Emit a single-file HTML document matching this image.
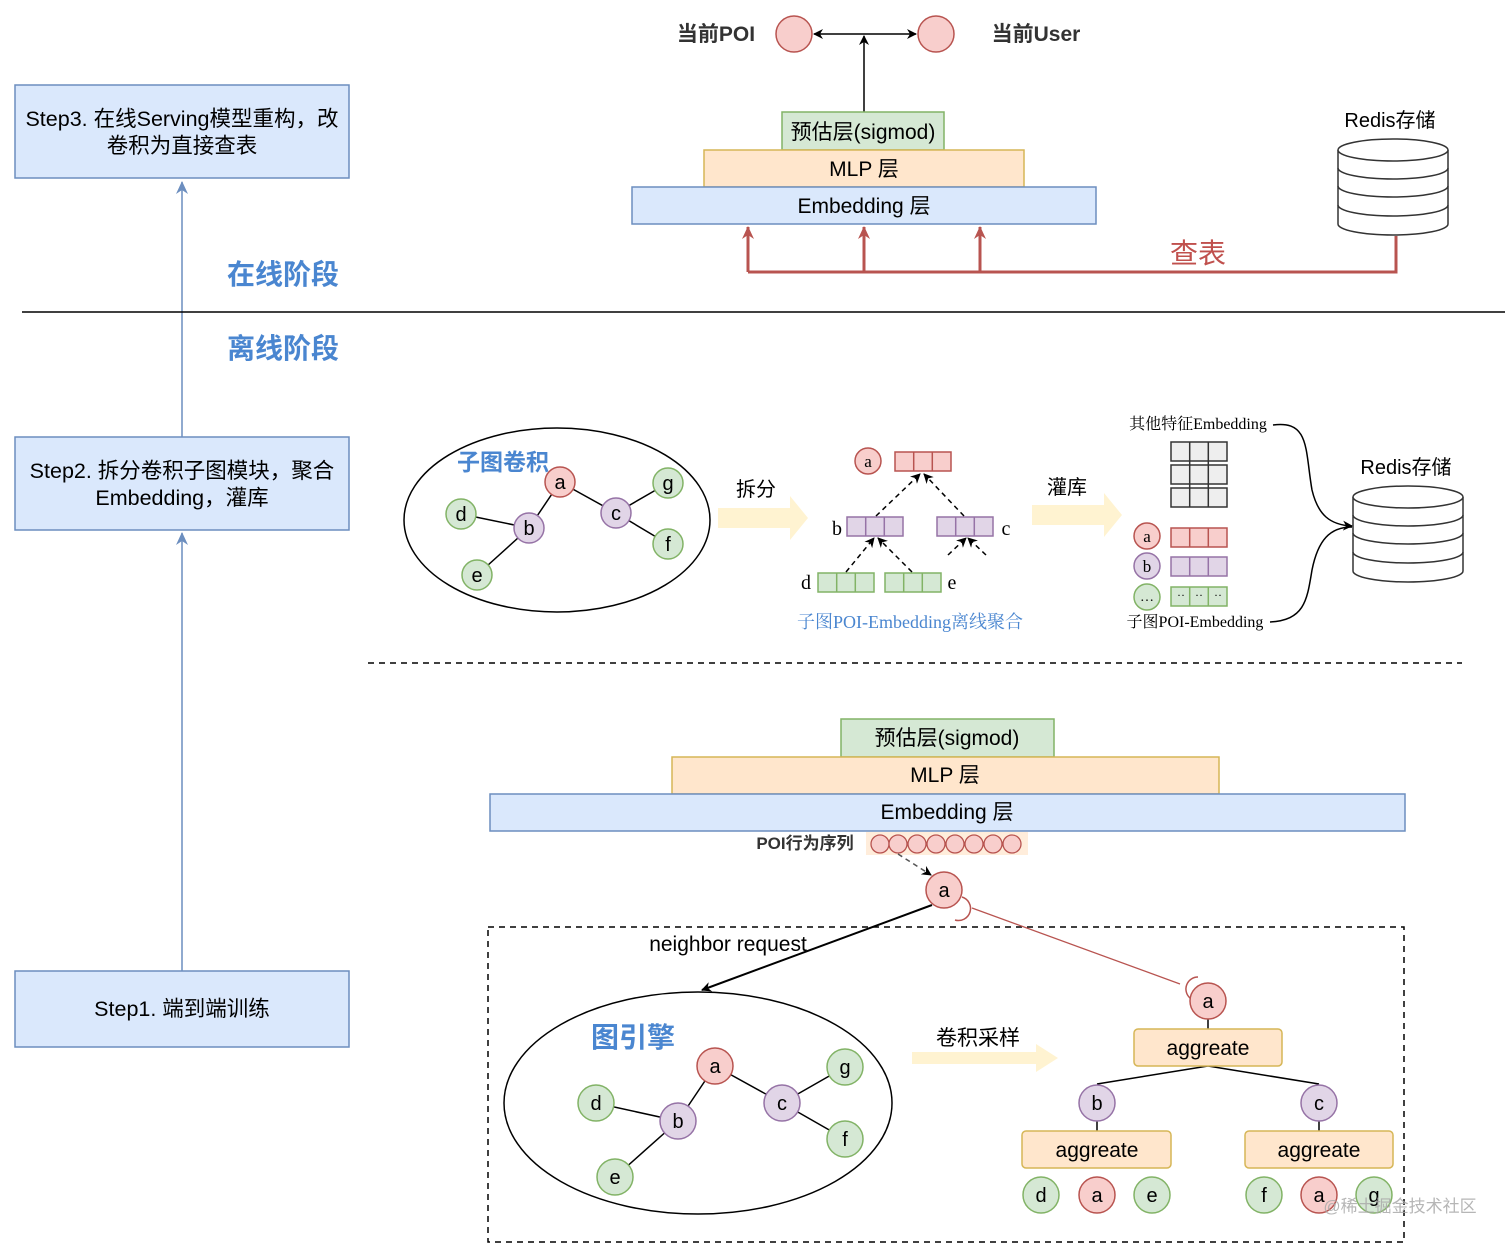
<!DOCTYPE html>
<html><head><meta charset="utf-8"><style>
body{margin:0;background:#fff}
svg text{font-family:"Liberation Sans","Noto Sans CJK SC",sans-serif}
.s{font-family:"Liberation Serif","Noto Serif CJK SC",serif !important}
</style></head><body>
<svg width="1512" height="1247" viewBox="0 0 1512 1247" xmlns="http://www.w3.org/2000/svg">
<defs>
<marker id="ab" markerWidth="10" markerHeight="10" refX="9" refY="5" orient="auto" markerUnits="userSpaceOnUse"><path d="M0,0 L10,5 L0,10 L3,5z" fill="#000"/></marker>
<marker id="ag" markerWidth="14" markerHeight="14" refX="12" refY="7" orient="auto" markerUnits="userSpaceOnUse"><path d="M0,1 L13,7 L0,13 L4,7z" fill="#6c8ebf"/></marker>
<marker id="ar" markerWidth="14" markerHeight="14" refX="12" refY="7" orient="auto" markerUnits="userSpaceOnUse"><path d="M0,1 L13,7 L0,13 L4,7z" fill="#b85450"/></marker>
</defs>

<line x1="182" y1="437" x2="182" y2="182" stroke="#6c8ebf" stroke-width="1.5" marker-end="url(#ag)"/>
<line x1="182" y1="971" x2="182" y2="533" stroke="#6c8ebf" stroke-width="1.5" marker-end="url(#ag)"/>
<rect x="15" y="85" width="334" height="93" fill="#dae8fc" stroke="#6c8ebf" stroke-width="1.5"/>
<text x="182" y="126" font-size="21.5" text-anchor="middle">Step3. 在线Serving模型重构，改</text>
<text x="182" y="153" font-size="21.5" text-anchor="middle">卷积为直接查表</text>
<rect x="15" y="437" width="334" height="93" fill="#dae8fc" stroke="#6c8ebf" stroke-width="1.5"/>
<text x="182" y="478" font-size="21.5" text-anchor="middle">Step2. 拆分卷积子图模块，聚合</text>
<text x="182" y="505" font-size="21.5" text-anchor="middle">Embedding，灌库</text>
<rect x="15" y="971" width="334" height="76" fill="#dae8fc" stroke="#6c8ebf" stroke-width="1.5"/>
<text x="182" y="1016" font-size="21.5" text-anchor="middle">Step1. 端到端训练</text>

<text x="283" y="284" font-size="28" font-weight="bold" fill="#4a86d0" text-anchor="middle">在线阶段</text>
<text x="283" y="358" font-size="28" font-weight="bold" fill="#4a86d0" text-anchor="middle">离线阶段</text>
<line x1="22" y1="312" x2="1505" y2="312" stroke="#000" stroke-width="1.5"/>

<text x="716" y="41" font-size="21" font-weight="bold" fill="#333" text-anchor="middle">当前POI</text>
<text x="1036" y="41" font-size="21" font-weight="bold" fill="#333" text-anchor="middle">当前User</text>
<circle cx="794" cy="34" r="18" fill="#f8cecc" stroke="#b85450" stroke-width="1.5"/>
<circle cx="936" cy="34" r="18" fill="#f8cecc" stroke="#b85450" stroke-width="1.5"/>
<line x1="864" y1="34" x2="814" y2="34" stroke="#000" stroke-width="1.5" marker-end="url(#ab)"/>
<line x1="864" y1="34" x2="916" y2="34" stroke="#000" stroke-width="1.5" marker-end="url(#ab)"/>
<line x1="864" y1="112" x2="864" y2="36" stroke="#000" stroke-width="1.5" marker-end="url(#ab)"/>
<rect x="782" y="112" width="162" height="38" fill="#d5e8d4" stroke="#82b366" stroke-width="1.5"/>
<text x="863" y="139" font-size="21" text-anchor="middle">预估层(sigmod)</text>
<rect x="704" y="150" width="320" height="37" fill="#ffe6cc" stroke="#d6b656" stroke-width="1.5"/>
<text x="864" y="176" font-size="21" text-anchor="middle">MLP 层</text>
<rect x="632" y="187" width="464" height="37" fill="#dae8fc" stroke="#6c8ebf" stroke-width="1.5"/>
<text x="864" y="213" font-size="21" text-anchor="middle">Embedding 层</text>
<path d="M748,272 H1396 V236" fill="none" stroke="#b85450" stroke-width="3"/>
<line x1="748" y1="272" x2="748" y2="227" stroke="#b85450" stroke-width="3" marker-end="url(#ar)"/>
<line x1="864" y1="272" x2="864" y2="227" stroke="#b85450" stroke-width="3" marker-end="url(#ar)"/>
<line x1="980" y1="272" x2="980" y2="227" stroke="#b85450" stroke-width="3" marker-end="url(#ar)"/>
<text x="1198" y="263" font-size="28" fill="#c0504d" text-anchor="middle">查表</text>
<text x="1390" y="127" font-size="20" text-anchor="middle">Redis存储</text>
<g stroke="#333" stroke-width="1.5" fill="#fff">
<path d="M1338,150 V224 A55,11 0 0 0 1448,224 V150"/>
<ellipse cx="1393" cy="150" rx="55" ry="11"/>
<path d="M1338,168 A55,11 0 0 0 1448,168 M1338,186 A55,11 0 0 0 1448,186 M1338,205 A55,11 0 0 0 1448,205" fill="none"/>
</g>

<ellipse cx="557" cy="520" rx="153" ry="92" fill="#fff" stroke="#000" stroke-width="1.5"/>
<text x="503" y="470" font-size="23" font-weight="bold" fill="#4a86d0" text-anchor="middle">子图卷积</text>
<g stroke="#000" stroke-width="1.5">
<line x1="461" y1="514" x2="529" y2="528"/><line x1="529" y1="528" x2="560" y2="482"/><line x1="529" y1="528" x2="477" y2="575"/>
<line x1="560" y1="482" x2="616" y2="513"/><line x1="616" y1="513" x2="668" y2="483"/><line x1="616" y1="513" x2="668" y2="544"/>
</g>
<g stroke-width="1.5">
<circle cx="461" cy="514" r="15" fill="#d5e8d4" stroke="#82b366"/><circle cx="529" cy="528" r="15" fill="#e1d5e7" stroke="#9673a6"/>
<circle cx="560" cy="482" r="15" fill="#f8cecc" stroke="#b85450"/><circle cx="616" cy="513" r="15" fill="#e1d5e7" stroke="#9673a6"/>
<circle cx="668" cy="483" r="15" fill="#d5e8d4" stroke="#82b366"/><circle cx="668" cy="544" r="15" fill="#d5e8d4" stroke="#82b366"/>
<circle cx="477" cy="575" r="15" fill="#d5e8d4" stroke="#82b366"/>
</g>
<g font-size="20" text-anchor="middle">
<text x="461" y="521">d</text><text x="529" y="535">b</text><text x="560" y="489">a</text><text x="616" y="520">c</text><text x="668" y="490">g</text><text x="668" y="551">f</text><text x="477" y="582">e</text>
</g>
<path d="M718,508 H790 V496 L808,518 L790,540 V528 H718z" fill="#fff2cc" opacity="0.9"/>
<text x="756" y="496" font-size="20" text-anchor="middle">拆分</text>
<path d="M1032,505 H1104 V493 L1122,515 L1104,537 V525 H1032z" fill="#fff2cc" opacity="0.9"/>
<text x="1067" y="494" font-size="20" text-anchor="middle">灌库</text>

<g stroke-width="1.5">
<circle cx="868" cy="461" r="13" fill="#f8cecc" stroke="#b85450"/>
<rect x="895" y="452" width="56" height="19" fill="#f8cecc" stroke="#b85450"/>
<path d="M913.7,452V471M932.3,452V471" stroke="#b85450"/>
<rect x="847" y="517" width="56" height="19" fill="#e1d5e7" stroke="#9673a6"/><path d="M865.7,517V536M884.3,517V536" stroke="#9673a6"/>
<rect x="937" y="517" width="56" height="19" fill="#e1d5e7" stroke="#9673a6"/><path d="M955.7,517V536M974.3,517V536" stroke="#9673a6"/>
<rect x="818" y="573" width="56" height="19" fill="#d5e8d4" stroke="#82b366"/><path d="M836.7,573V592M855.3,573V592" stroke="#82b366"/>
<rect x="885" y="573" width="56" height="19" fill="#d5e8d4" stroke="#82b366"/><path d="M903.7,573V592M922.3,573V592" stroke="#82b366"/>
</g>
<g stroke="#000" stroke-width="1.5" stroke-dasharray="5,4" fill="none">
<line x1="876" y1="516" x2="920" y2="474" marker-end="url(#ab)"/><line x1="964" y1="516" x2="924" y2="474" marker-end="url(#ab)"/>
<line x1="846" y1="572" x2="874" y2="538" marker-end="url(#ab)"/><line x1="912" y1="572" x2="878" y2="538" marker-end="url(#ab)"/>
<line x1="948" y1="555" x2="966" y2="538" marker-end="url(#ab)"/><line x1="986" y1="555" x2="968" y2="538" marker-end="url(#ab)"/>
</g>
<g font-size="20">
<text x="868" y="467" text-anchor="middle" class="s" font-size="17">a</text>
<text x="837" y="535" text-anchor="middle" class="s">b</text><text x="1006" y="535" text-anchor="middle" class="s">c</text>
<text x="806" y="589" text-anchor="middle" class="s">d</text><text x="952" y="589" text-anchor="middle" class="s">e</text>
</g>
<text x="910" y="628" font-size="18" fill="#4a86d0" text-anchor="middle" class="s">子图POI-Embedding离线聚合</text>

<text x="1198" y="429" font-size="16" text-anchor="middle" class="s">其他特征Embedding</text>
<g fill="#eee" stroke="#333" stroke-width="1.5">
<rect x="1171" y="442" width="56" height="19"/><rect x="1171" y="465" width="56" height="19"/><rect x="1171" y="488" width="56" height="19"/>
<path d="M1189.7,442V507M1208.3,442V507" fill="none"/>
</g>
<g stroke-width="1.5">
<circle cx="1147" cy="536" r="13" fill="#f8cecc" stroke="#b85450"/>
<rect x="1171" y="528" width="56" height="19" fill="#f8cecc" stroke="#b85450"/><path d="M1189.7,528V547M1208.3,528V547" stroke="#b85450"/>
<circle cx="1147" cy="566" r="13" fill="#e1d5e7" stroke="#9673a6"/>
<rect x="1171" y="557" width="56" height="19" fill="#e1d5e7" stroke="#9673a6"/><path d="M1189.7,557V576M1208.3,557V576" stroke="#9673a6"/>
<circle cx="1147" cy="597" r="13" fill="#d5e8d4" stroke="#82b366"/>
<rect x="1171" y="587" width="56" height="19" fill="#d5e8d4" stroke="#82b366"/><path d="M1189.7,587V606M1208.3,587V606" stroke="#82b366"/>
</g>
<g text-anchor="middle"><text x="1147" y="542" font-size="17" class="s">a</text><text x="1147" y="572" font-size="17" class="s">b</text><text x="1147" y="601" font-size="14" class="s">…</text>
<text x="1181" y="599" font-size="12" class="s">··</text><text x="1199" y="599" font-size="12" class="s">··</text><text x="1218" y="599" font-size="12" class="s">··</text></g>
<text x="1195" y="627" font-size="16" text-anchor="middle" class="s">子图POI-Embedding</text>
<path d="M1273,425 C1310,420 1305,450 1312,490 C1318,515 1330,525 1352,526" fill="none" stroke="#000" stroke-width="1.5" marker-end="url(#ab)"/>
<path d="M1270,622 C1305,620 1307,600 1312,570 C1318,540 1330,527 1352,527" fill="none" stroke="#000" stroke-width="1.5"/>
<text x="1406" y="474" font-size="20" text-anchor="middle">Redis存储</text>
<g stroke="#333" stroke-width="1.5" fill="#fff">
<path d="M1353,497 V571 A55,11 0 0 0 1463,571 V497"/>
<ellipse cx="1408" cy="497" rx="55" ry="11"/>
<path d="M1353,515 A55,11 0 0 0 1463,515 M1353,533 A55,11 0 0 0 1463,533 M1353,552 A55,11 0 0 0 1463,552" fill="none"/>
</g>
<line x1="368" y1="663" x2="1462" y2="663" stroke="#000" stroke-width="1.5" stroke-dasharray="6,5"/>

<rect x="841" y="719" width="213" height="38" fill="#d5e8d4" stroke="#82b366" stroke-width="1.5"/>
<text x="947" y="745" font-size="21" text-anchor="middle">预估层(sigmod)</text>
<rect x="672" y="757" width="547" height="37" fill="#ffe6cc" stroke="#d6b656" stroke-width="1.5"/>
<text x="945" y="782" font-size="21" text-anchor="middle">MLP 层</text>
<rect x="490" y="794" width="915" height="37" fill="#dae8fc" stroke="#6c8ebf" stroke-width="1.5"/>
<text x="947" y="819" font-size="21" text-anchor="middle">Embedding 层</text>
<text x="805" y="849" font-size="17" font-weight="bold" fill="#333" text-anchor="middle">POI行为序列</text>
<rect x="866" y="832" width="162" height="23" fill="#ffe6cc" opacity="0.7"/>
<g fill="#f8cecc" stroke="#b85450" stroke-width="1.3">
<circle cx="880" cy="844" r="9"/><circle cx="898" cy="844" r="9"/><circle cx="917" cy="844" r="9"/><circle cx="936" cy="844" r="9"/><circle cx="955" cy="844" r="9"/><circle cx="974" cy="844" r="9"/><circle cx="993" cy="844" r="9"/><circle cx="1012" cy="844" r="9"/>
</g>
<line x1="898" y1="854" x2="931" y2="875" stroke="#555" stroke-width="1.5" stroke-dasharray="5,4" marker-end="url(#ab)"/>
<rect x="488" y="927" width="916" height="315" fill="none" stroke="#000" stroke-width="1.5" stroke-dasharray="6,5"/>
<line x1="932" y1="905" x2="702" y2="990" stroke="#000" stroke-width="2" marker-end="url(#ab)"/>
<text x="728" y="951" font-size="21" text-anchor="middle">neighbor request</text>
<line x1="972" y1="908" x2="1180" y2="984" stroke="#b85450" stroke-width="1.3"/>
<path d="M962,897 A12,12 0 0 1 955,920" fill="none" stroke="#b85450" stroke-width="1.5"/>
<path d="M1198,977 A12,12 0 0 0 1190,998" fill="none" stroke="#b85450" stroke-width="1.5"/>
<circle cx="944" cy="890" r="18" fill="#f8cecc" stroke="#b85450" stroke-width="1.5"/>
<text x="944" y="897" font-size="20" text-anchor="middle">a</text>

<ellipse cx="698" cy="1103" rx="194" ry="111" fill="#fff" stroke="#000" stroke-width="1.5"/>
<text x="633" y="1047" font-size="28" font-weight="bold" fill="#4a86d0" text-anchor="middle">图引擎</text>
<g stroke="#000" stroke-width="1.5">
<line x1="596" y1="1103" x2="678" y2="1121"/><line x1="678" y1="1121" x2="715" y2="1066"/><line x1="678" y1="1121" x2="615" y2="1177"/>
<line x1="715" y1="1066" x2="782" y2="1103"/><line x1="782" y1="1103" x2="845" y2="1067"/><line x1="782" y1="1103" x2="845" y2="1139"/>
</g>
<g stroke-width="1.5">
<circle cx="596" cy="1103" r="18" fill="#d5e8d4" stroke="#82b366"/><circle cx="678" cy="1121" r="18" fill="#e1d5e7" stroke="#9673a6"/>
<circle cx="715" cy="1066" r="18" fill="#f8cecc" stroke="#b85450"/><circle cx="782" cy="1103" r="18" fill="#e1d5e7" stroke="#9673a6"/>
<circle cx="845" cy="1067" r="18" fill="#d5e8d4" stroke="#82b366"/><circle cx="845" cy="1139" r="18" fill="#d5e8d4" stroke="#82b366"/>
<circle cx="615" cy="1177" r="18" fill="#d5e8d4" stroke="#82b366"/>
</g>
<g font-size="20" text-anchor="middle">
<text x="596" y="1110">d</text><text x="678" y="1128">b</text><text x="715" y="1073">a</text><text x="782" y="1110">c</text><text x="845" y="1074">g</text><text x="845" y="1146">f</text><text x="615" y="1184">e</text>
</g>
<path d="M912,1052 H1036 V1044 L1058,1058 L1036,1072 V1064 H912z" fill="#fff2cc" opacity="0.9"/>
<text x="978" y="1045" font-size="21" text-anchor="middle">卷积采样</text>

<g stroke="#000" stroke-width="1.5">
<line x1="1208" y1="1066" x2="1097" y2="1084"/><line x1="1208" y1="1066" x2="1319" y2="1084"/>
<line x1="1208" y1="1019" x2="1208" y2="1029"/><line x1="1097" y1="1121" x2="1097" y2="1131"/><line x1="1319" y1="1121" x2="1319" y2="1131"/>
</g>
<g stroke-width="1.5">
<circle cx="1208" cy="1001" r="18" fill="#f8cecc" stroke="#b85450"/>
<rect x="1134" y="1029" width="148" height="37" rx="4" fill="#ffe6cc" stroke="#d6b656"/>
<circle cx="1097" cy="1103" r="18" fill="#e1d5e7" stroke="#9673a6"/><circle cx="1319" cy="1103" r="18" fill="#e1d5e7" stroke="#9673a6"/>
<rect x="1022" y="1131" width="149" height="37" rx="4" fill="#ffe6cc" stroke="#d6b656"/>
<rect x="1245" y="1131" width="148" height="37" rx="4" fill="#ffe6cc" stroke="#d6b656"/>
<circle cx="1041" cy="1195" r="18" fill="#d5e8d4" stroke="#82b366"/><circle cx="1097" cy="1195" r="18" fill="#f8cecc" stroke="#b85450"/><circle cx="1152" cy="1195" r="18" fill="#d5e8d4" stroke="#82b366"/>
<circle cx="1264" cy="1195" r="18" fill="#d5e8d4" stroke="#82b366"/><circle cx="1319" cy="1195" r="18" fill="#f8cecc" stroke="#b85450"/><circle cx="1374" cy="1195" r="18" fill="#d5e8d4" stroke="#82b366"/>
</g>
<g font-size="20" text-anchor="middle">
<text x="1208" y="1008">a</text><text x="1208" y="1055" font-size="21">aggreate</text>
<text x="1097" y="1110">b</text><text x="1319" y="1110">c</text>
<text x="1097" y="1157" font-size="21">aggreate</text><text x="1319" y="1157" font-size="21">aggreate</text>
<text x="1041" y="1202">d</text><text x="1097" y="1202">a</text><text x="1152" y="1202">e</text>
<text x="1264" y="1202">f</text><text x="1319" y="1202">a</text><text x="1374" y="1202">g</text>
</g>
<text x="1400" y="1212" font-size="17" fill="#aaa" text-anchor="middle" opacity="0.85">@稀土掘金技术社区</text>
</svg>
</body></html>
